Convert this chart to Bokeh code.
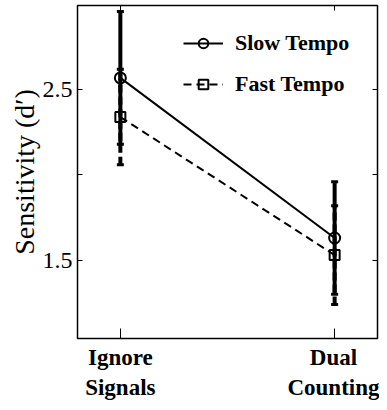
from bokeh.plotting import figure
from bokeh.models import (LinearAxis, FixedTicker, Whisker, TeeHead, ColumnDataSource,
                          Legend, LegendItem, Range1d)
from bokeh.embed import file_html
from bokeh.resources import INLINE

# ---- data ----
conditions = ["Ignore\nSignals", "Dual\nCounting"]
cond_x = [1, 2]
slow_mean = [2.57, 1.63]
slow_err = [0.39, 0.33]
fast_mean = [2.34, 1.53]
fast_err = [0.28, 0.29]
y_major = [1.5, 2.5]
y_minor = [2.0]

SERIF = "Liberation Serif"

p = figure(width=379, height=402, x_range=Range1d(0.8, 2.2), y_range=Range1d(1.04, 2.995),
           output_backend="svg", toolbar_location=None,
           min_border_left=77, min_border_right=2, min_border_top=5, min_border_bottom=10)
p.xgrid.visible = False
p.ygrid.visible = False
p.outline_line_color = "black"
p.outline_line_width = 1.5
p.background_fill_color = "white"

# left axis
ya = p.yaxis[0]
ya.ticker = FixedTicker(ticks=y_major, minor_ticks=y_minor)
ya.major_tick_in = 5
ya.major_tick_out = 0
ya.minor_tick_in = 5
ya.minor_tick_out = 0
ya.minor_tick_line_color = "black"
ya.major_label_text_font = SERIF
ya.major_label_text_font_size = "24px"
ya.major_label_text_color = "black"
ya.major_label_standoff = 5
ya.axis_label = "Sensitivity (d′)"
ya.axis_label_text_font = SERIF
ya.axis_label_text_font_style = "normal"
ya.axis_label_text_font_size = "28px"
ya.axis_label_text_color = "black"
ya.axis_label_standoff = 0
ya.axis_line_color = "black"
ya.major_tick_line_color = "black"

# bottom axis
xa = p.xaxis[0]
xa.ticker = FixedTicker(ticks=cond_x)
xa.major_label_overrides = {x: c for x, c in zip(cond_x, conditions)}
xa.major_tick_in = 10
xa.major_tick_out = 0
xa.minor_tick_in = 0
xa.minor_tick_out = 0
xa.major_label_text_font = SERIF
xa.major_label_text_font_style = "bold"
xa.major_label_text_font_size = "23px"
xa.major_label_text_color = "black"
xa.major_label_standoff = 6
xa.axis_line_color = "black"
xa.major_tick_line_color = "black"

# right and top axes (ticks only, no labels)
ra = LinearAxis(ticker=FixedTicker(ticks=[], minor_ticks=y_major + y_minor),
                major_tick_in=0, major_tick_out=0, minor_tick_in=5, minor_tick_out=0,
                minor_tick_line_color="black", axis_line_color="black")
p.add_layout(ra, "right")
ta = LinearAxis(ticker=FixedTicker(ticks=[], minor_ticks=cond_x),
                major_tick_in=0, major_tick_out=0, minor_tick_in=5, minor_tick_out=0,
                minor_tick_line_color="black", axis_line_color="black")
p.add_layout(ta, "above")

# error bars
def err_source(mean, err):
    return ColumnDataSource(dict(x=cond_x, mean=mean,
                                 lower=[m - e for m, e in zip(mean, err)],
                                 upper=[m + e for m, e in zip(mean, err)]))

src_fast = err_source(fast_mean, fast_err)
src_slow = err_source(slow_mean, slow_err)

wf = Whisker(base="x", lower="lower", upper="upper", source=src_fast,
             line_width=4, line_color="black", line_dash="8 4",
             upper_head=TeeHead(size=7, line_width=3, line_color="black"),
             lower_head=TeeHead(size=7, line_width=3, line_color="black"))
ws = Whisker(base="x", lower="lower", upper="upper", source=src_slow,
             line_width=4, line_color="black",
             upper_head=TeeHead(size=7, line_width=3, line_color="black"),
             lower_head=TeeHead(size=7, line_width=3, line_color="black"))
p.add_layout(wf)
p.add_layout(ws)

# series
l_slow = p.line("x", "mean", source=src_slow, line_color="black", line_width=2)
m_slow = p.scatter("x", "mean", source=src_slow, marker="circle", size=11,
                   line_color="black", line_width=2, fill_color=None)
l_fast = p.line("x", "mean", source=src_fast, line_color="black", line_width=2, line_dash="8 5")
m_fast = p.scatter("x", "mean", source=src_fast, marker="square", size=10,
                   line_color="black", line_width=2, fill_color=None)

legend = Legend(items=[LegendItem(label="Slow Tempo", renderers=[l_slow, m_slow]),
                       LegendItem(label="Fast Tempo", renderers=[l_fast, m_fast])],
                location=(106, 241), border_line_color=None, background_fill_alpha=0,
                padding=0, spacing=15, glyph_width=40, glyph_height=24, label_height=24,
                label_standoff=12, label_text_font=SERIF, label_text_font_style="bold",
                label_text_font_size="22px", label_text_color="black", margin=0)
p.add_layout(legend)

open("out.html", "w").write(file_html(p, INLINE))
